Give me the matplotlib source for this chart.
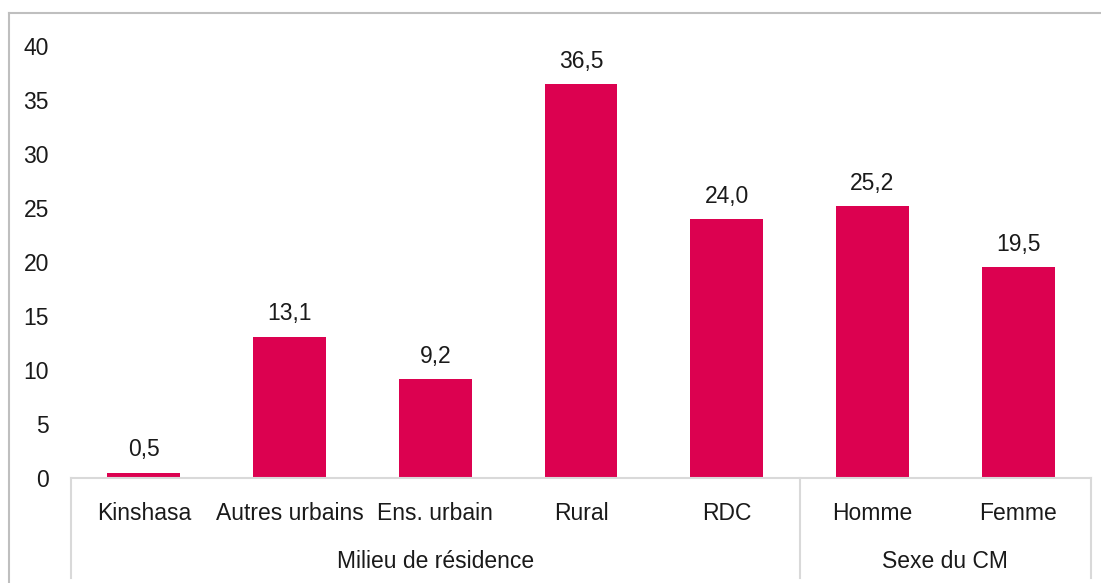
import matplotlib.pyplot as plt
import matplotlib.transforms as mtransforms
from matplotlib.lines import Line2D

# Données
categories = ["Kinshasa", "Autres urbains", "Ens. urbain", "Rural", "RDC", "Homme", "Femme"]
valeurs = [0.5, 13.1, 9.2, 36.5, 24.0, 25.2, 19.5]
groupes = ["Milieu de résidence", "Sexe du CM"]
taille_groupes = [5, 2]

COULEUR = "#DC0150"
GRIS = "#D9D9D9"
TAILLE = 16.5

plt.rcParams["font.family"] = ["Liberation Sans", "DejaVu Sans"]
plt.rcParams["text.color"] = "#1A1A1A"

fig = plt.figure(figsize=(11.01, 5.83), dpi=100)
W, H = 1101, 583
ax = fig.add_axes([71 / W, (H - 478) / H, (1091 - 71) / W, (478 - 46) / H])

x = list(range(len(categories)))
ax.bar(x, valeurs, width=0.5, color=COULEUR, zorder=2)

for xi, v in zip(x, valeurs):
    ax.annotate(f"{v:.1f}".replace(".", ","), (xi, v), xytext=(0, 8),
                textcoords="offset points", ha="center", va="bottom", fontsize=TAILLE)

ax.set_xlim(-0.5, len(categories) - 0.5)
ax.set_ylim(0, 40)
ax.set_yticks(range(0, 41, 5))
ax.set_xticks(x)
ax.set_xticklabels(categories)
ax.tick_params(axis="both", length=0, labelsize=TAILLE, labelcolor="#1A1A1A")
ax.tick_params(axis="y", pad=16)
ax.tick_params(axis="x", pad=17)

for s in ["top", "right", "left"]:
    ax.spines[s].set_visible(False)
ax.spines["bottom"].set_color(GRIS)
ax.spines["bottom"].set_linewidth(1.5)

# Séparateurs de groupes et libellés
trans = mtransforms.blended_transform_factory(ax.transData, ax.transAxes)
bas = -100 / 432
debut = -0.5
ax.plot([debut, debut], [0, bas], transform=trans, color=GRIS, lw=1.5, clip_on=False)
for nom, n in zip(groupes, taille_groupes):
    fin = debut + n
    ax.plot([fin, fin], [0, bas], transform=trans, color=GRIS, lw=1.5, clip_on=False)
    ax.text((debut + fin) / 2, -83 / 432, nom, transform=trans, ha="center",
            va="center", fontsize=TAILLE)
    debut = fin

# Cadre du graphique
fig.add_artist(Line2D([9 / W, 9 / W], [0, (H - 13) / H], color="#BFBFBF", lw=1.5))
fig.add_artist(Line2D([9 / W, 1], [(H - 13) / H, (H - 13) / H], color="#BFBFBF", lw=1.5))

fig.savefig("out.png", dpi=100)
